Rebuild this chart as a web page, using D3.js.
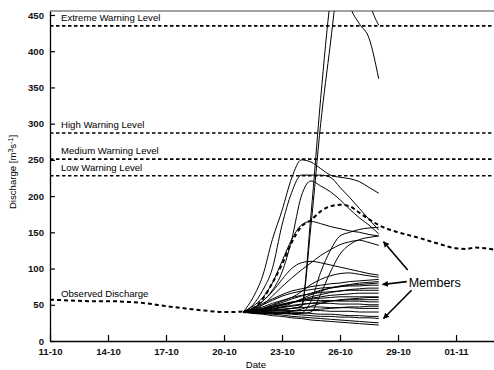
<!DOCTYPE html>
<html>
<head>
<meta charset="utf-8">
<script src="https://cdn.jsdelivr.net/npm/d3@7"></script>
<style>
  body { margin: 0; background: #fff; }
  svg { display: block; font-family: "Liberation Sans", Arial, sans-serif; }
</style>
</head>
<body>
<svg id="chart" width="494" height="370"></svg>
<script>
// dates are given as day offsets from 11-10
const startLabel = "11-10";
const endLabel = "03-11";
const tickLabels = ["11-10", "14-10", "17-10", "20-10", "23-10", "26-10", "29-10", "01-11"];
const yTicks = [0, 50, 100, 150, 200, 250, 300, 350, 400, 450];

const levelNames = ["Extreme Warning Level", "High Warning Level", "Medium Warning Level", "Low Warning Level"];
const levelValues = [435, 287, 251, 228];

// observed discharge
const obsDays = [0, 1, 2, 3, 4, 5, 6, 7, 8, 9, 9.5, 10, 10.5, 11, 11.5, 12, 12.5, 13, 13.5, 14, 14.5, 15, 15.5, 16, 16.5, 17, 18, 19, 20, 21, 21.5, 22, 22.5, 23];
const obsValues = [57, 56, 55, 55, 54, 52, 48, 45, 42, 40, 40, 41, 45, 58, 80, 106, 136, 158, 167, 179, 186, 188, 186, 177, 168, 160, 150, 143, 135, 128, 127, 129, 128, 126];

// ensemble members, 12-hourly from 21-10 to 28-10
const memberDays = [10, 10.5, 11, 11.5, 12, 12.5, 13, 13.5, 14, 14.5, 15, 15.5, 16, 16.5, 17];
const members = [
  [40, 40, 41, 42, 43, 45, 48, 175, 335, 470, 540, 465, 438, 418, 362],
  [40, 40, 41, 42, 43, 45, 47, 160, 300, 410, 520, 580, 540, 470, 436],
  [40, 60, 90, 140, 180, 225, 250, 247, 238, 229, 226, 224, 220, 212, 204],
  [40, 50, 70, 100, 160, 205, 229, 229, 229, 226, 212, 198, 183, 168, 153],
  [40, 45, 55, 70, 95, 140, 200, 221, 214, 206, 195, 182, 170, 160, 148],
  [40, 48, 60, 80, 110, 140, 160, 165, 162, 158, 155, 152, 150, 147, 145],
  [40, 45, 55, 68, 85, 100, 108, 110, 108, 105, 102, 99, 96, 93, 91],
  [40, 39, 38, 38, 38, 38, 39, 55, 95, 125, 145, 150, 154, 156, 157],
  [40, 39, 38, 38, 38, 38, 38, 40, 65, 95, 120, 133, 140, 143, 145],
  [40, 43, 50, 62, 75, 87, 98, 108, 118, 126, 133, 137, 139, 136, 132],
  [40, 42, 45, 50, 55, 60, 68, 78, 85, 90, 93, 94, 92, 90, 88],
  [40, 38, 37, 35, 34, 32, 31, 29, 28, 27, 26, 25, 24, 23, 22],
  [40, 39, 38, 37, 36, 34, 33, 32, 31, 30, 29, 28, 27, 26, 25],
  [41, 40, 40, 39, 38, 37, 36, 35, 34, 34, 33, 33, 32, 32, 31],
  [39, 39, 40, 40, 40, 39, 39, 38, 37, 37, 36, 35, 35, 34, 34],
  [40, 40, 41, 41, 42, 42, 42, 42, 42, 41, 41, 41, 40, 40, 40],
  [40, 41, 42, 43, 44, 45, 46, 47, 47, 46, 46, 46, 45, 45, 45],
  [40, 41, 43, 45, 47, 49, 51, 52, 52, 52, 51, 51, 51, 50, 50],
  [40, 42, 44, 47, 50, 53, 55, 56, 56, 56, 55, 55, 55, 54, 54],
  [40, 41, 42, 44, 46, 48, 50, 52, 54, 55, 56, 57, 57, 57, 57],
  [40, 42, 45, 48, 51, 54, 56, 58, 59, 60, 61, 61, 61, 61, 61],
  [40, 42, 44, 47, 50, 53, 56, 59, 61, 63, 64, 65, 66, 66, 66],
  [40, 43, 47, 52, 56, 60, 63, 65, 67, 68, 69, 70, 70, 70, 70],
  [40, 41, 43, 46, 49, 53, 57, 61, 64, 67, 69, 71, 72, 73, 73],
  [40, 44, 50, 56, 62, 66, 69, 71, 73, 74, 75, 76, 76, 77, 77],
  [40, 42, 45, 49, 53, 58, 62, 66, 70, 73, 75, 77, 78, 79, 80],
  [40, 41, 42, 44, 47, 52, 58, 64, 69, 73, 76, 78, 80, 81, 82],
  [40, 45, 52, 58, 64, 69, 72, 75, 77, 79, 80, 82, 83, 84, 85],
  [40, 39, 38, 38, 39, 41, 44, 48, 52, 55, 57, 58, 59, 60, 60],
  [40, 40, 39, 39, 40, 41, 42, 43, 44, 45, 46, 47, 47, 48, 48]
];

// "Members" annotation: label anchor and arrow tips / tails as [day, value]
const memberLabel = "Members";
const labelAt = [18.55, 75];
const arrowTails = [[18.5, 98], [18.45, 82], [18.7, 70]];
const arrowTips = [[17.25, 137], [17.2, 78], [17.25, 31]];

const parseDay = d3.timeParse("%d-%m-%Y");
const toDate = s => parseDay(s + "-2008");
const base = toDate(startLabel);
const dayDate = d => new Date(base.getTime() + d * 864e5);

const svg = d3.select("#chart");
const x = d3.scaleTime().domain([base, toDate(endLabel)]).range([50, 494.7]);
const y = d3.scaleLinear().domain([0, 455.5]).range([341, 11]);
const x0 = x.range()[0], x1 = x.range()[1];

svg.append("defs").append("clipPath").attr("id", "plot")
  .append("rect").attr("x", x0).attr("y", y.range()[1])
  .attr("width", x1 - x0).attr("height", y.range()[0] - y.range()[1]);

svg.append("defs").append("marker")
  .attr("id", "head").attr("viewBox", "0 0 10 10")
  .attr("refX", 9).attr("refY", 5)
  .attr("markerWidth", 6).attr("markerHeight", 6)
  .attr("markerUnits", "userSpaceOnUse")
  .attr("orient", "auto")
  .append("path").attr("d", "M0,0L10,5L0,10z").attr("fill", "#000");

// frame top
svg.append("line")
  .attr("x1", x0).attr("x2", x1)
  .attr("y1", y.range()[1]).attr("y2", y.range()[1])
  .attr("stroke", "#444").attr("stroke-width", 1);

// warning levels
svg.append("g").selectAll("line").data(levelValues).join("line")
  .attr("x1", x0).attr("x2", x1)
  .attr("y1", d => y(d)).attr("y2", d => y(d))
  .attr("stroke", "#000").attr("stroke-width", 1.6)
  .attr("stroke-dasharray", "3.5,2.5");

svg.append("g").selectAll("text").data(levelNames).join("text")
  .attr("x", x0 + 11)
  .attr("y", (d, i) => y(levelValues[i]) - 5)
  .attr("font-size", 9.6)
  .text(d => d);

// members
const line = d3.line()
  .x((d, i) => x(dayDate(memberDays[i])))
  .y(d => y(d))
  .curve(d3.curveMonotoneX);

svg.append("g").attr("clip-path", "url(#plot)")
  .selectAll("path").data(members).join("path")
  .attr("d", line)
  .attr("fill", "none")
  .attr("stroke", "#000")
  .attr("stroke-width", 1);

// observed
const obsLine = d3.line()
  .x((d, i) => x(dayDate(obsDays[i])))
  .y(d => y(d))
  .curve(d3.curveMonotoneX);

svg.append("path").datum(obsValues)
  .attr("clip-path", "url(#plot)")
  .attr("d", obsLine)
  .attr("fill", "none")
  .attr("stroke", "#000")
  .attr("stroke-width", 2)
  .attr("stroke-dasharray", "4,3");

svg.append("text")
  .attr("x", x0 + 11).attr("y", y(obsValues[0]) - 3)
  .attr("font-size", 9.6)
  .text("Observed Discharge");

// axes
const yAxis = svg.append("g").attr("transform", `translate(${x0},0)`)
  .call(d3.axisLeft(y).tickValues(yTicks).tickSizeInner(-5).tickSizeOuter(0).tickPadding(6));

const xAxis = svg.append("g").attr("transform", `translate(0,${y.range()[0]})`)
  .call(d3.axisBottom(x).tickValues(tickLabels.map(toDate))
    .tickFormat((d, i) => tickLabels[i])
    .tickSizeInner(-6).tickSizeOuter(0).tickPadding(7));

[yAxis, xAxis].forEach(g => {
  g.select(".domain").attr("stroke", "#000").attr("stroke-width", 1.3);
  g.selectAll(".tick line").attr("stroke", "#000").attr("stroke-width", 1.2);
  g.selectAll(".tick text").attr("font-size", 9.6).attr("font-weight", "bold")
    .attr("fill", "#111").attr("font-family", "Liberation Sans, Arial, sans-serif");
});

svg.append("text")
  .attr("transform", "translate(16,172) rotate(-90)")
  .attr("text-anchor", "middle")
  .attr("font-size", 9.6)
  .html('Discharge [m<tspan dy="-3" font-size="7">3</tspan><tspan dy="3">s</tspan><tspan dy="-3" font-size="7">-1</tspan><tspan dy="3">]</tspan>');

svg.append("text")
  .attr("x", 256).attr("y", 368)
  .attr("text-anchor", "middle")
  .attr("font-size", 9.6)
  .text("Date");

// annotation
svg.append("g").selectAll("line").data(arrowTails).join("line")
  .attr("x1", d => x(dayDate(d[0]))).attr("y1", d => y(d[1]))
  .attr("x2", (d, i) => x(dayDate(arrowTips[i][0])))
  .attr("y2", (d, i) => y(arrowTips[i][1]))
  .attr("stroke", "#000").attr("stroke-width", 1.6)
  .attr("marker-end", "url(#head)");

svg.append("text")
  .attr("x", x(dayDate(labelAt[0]))).attr("y", y(labelAt[1]))
  .attr("font-size", 12.5)
  .text(memberLabel);
</script>
</body>
</html>
